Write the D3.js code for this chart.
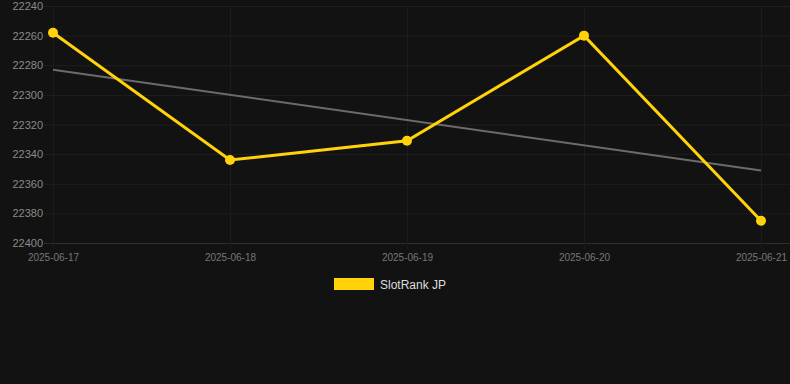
<!DOCTYPE html>
<html>
<head>
<meta charset="utf-8">
<script src="https://cdn.jsdelivr.net/npm/d3@7"></script>
<style>
  body { margin: 0; background: #121212; }
  svg { display: block; font-family: "Liberation Sans", Arial, sans-serif; }
</style>
</head>
<body>
<div id="vis"></div>
<script>
const dates = ["2025-06-17", "2025-06-18", "2025-06-19", "2025-06-20", "2025-06-21"];
const rankValues = [22258, 22344, 22331, 22260, 22385];
const trendValues = [22283, 22351];
const yTicks = [22240, 22260, 22280, 22300, 22320, 22340, 22360, 22380, 22400];
const seriesName = "SlotRank JP";

const FRAME_WIDTH = 790;
const FRAME_HEIGHT = 384;
const MARGINS = {left: 44, right: 0, top: 6, bottom: 141};

const svg = d3.select("#vis")
    .append("svg")
    .attr("width", FRAME_WIDTH)
    .attr("height", FRAME_HEIGHT);

svg.append("rect")
    .attr("width", FRAME_WIDTH)
    .attr("height", FRAME_HEIGHT)
    .attr("fill", "#121212");

// x: points spread between 53 and 761
const xScale = d3.scalePoint()
    .domain(dates)
    .range([53, 761]);

// y axis is reversed, small numbers on top
const yScale = d3.scaleLinear()
    .domain([22240, 22400])
    .range([MARGINS.top, FRAME_HEIGHT - MARGINS.bottom]);

// horizontal grid
svg.append("g")
    .selectAll("line")
    .data(yTicks)
    .enter()
    .append("line")
    .attr("x1", MARGINS.left)
    .attr("x2", FRAME_WIDTH)
    .attr("y1", d => yScale(d) + 0.5)
    .attr("y2", d => yScale(d) + 0.5)
    .attr("stroke", d => d === 22400 ? "#2e2e2e" : "#1f1f1f")
    .attr("stroke-width", 1);

// vertical grid
svg.append("g")
    .selectAll("line")
    .data(dates)
    .enter()
    .append("line")
    .attr("x1", d => xScale(d) + 0.5)
    .attr("x2", d => xScale(d) + 0.5)
    .attr("y1", MARGINS.top)
    .attr("y2", yScale(22400) + 6)
    .attr("stroke", "#1c1c1c")
    .attr("stroke-width", 1);

// y labels
const yAxis = d3.axisLeft(yScale).tickValues(yTicks).tickSize(0).tickPadding(0).tickFormat(d3.format("d"));
const yG = svg.append("g")
    .attr("transform", `translate(${MARGINS.left - 1}, 0)`)
    .call(yAxis);
yG.select(".domain").remove();
yG.selectAll("text")
    .attr("fill", "#8a8a8a")
    .attr("font-size", "11px");

// x labels
const xAxis = d3.axisBottom(xScale).tickSize(0).tickPadding(0);
const xG = svg.append("g")
    .attr("transform", `translate(0, ${yScale(22400) + 11})`)
    .call(xAxis);
xG.select(".domain").remove();
xG.selectAll("text")
    .attr("fill", "#777")
    .attr("font-size", "10px");

// trend line
svg.append("line")
    .attr("x1", xScale(dates[0]))
    .attr("x2", xScale(dates[dates.length - 1]))
    .attr("y1", yScale(trendValues[0]))
    .attr("y2", yScale(trendValues[1]))
    .attr("stroke", "#6b6b6b")
    .attr("stroke-width", 2);

// main line
const line = d3.line()
    .x((d, i) => xScale(dates[i]))
    .y(d => yScale(d));

svg.append("path")
    .datum(rankValues)
    .attr("d", line)
    .attr("fill", "none")
    .attr("stroke", "#ffd20a")
    .attr("stroke-width", 3);

svg.selectAll("circle.pt")
    .data(rankValues)
    .enter()
    .append("circle")
    .attr("class", "pt")
    .attr("cx", (d, i) => xScale(dates[i]))
    .attr("cy", d => yScale(d))
    .attr("r", 5)
    .attr("fill", "#ffd20a");

// legend
svg.append("rect")
    .attr("x", 334)
    .attr("y", 278)
    .attr("width", 40)
    .attr("height", 12)
    .attr("fill", "#ffd20a");

svg.append("text")
    .attr("x", 380)
    .attr("y", 288.5)
    .attr("fill", "#dddddd")
    .attr("font-size", "12px")
    .text(seriesName);
</script>
</body>
</html>
